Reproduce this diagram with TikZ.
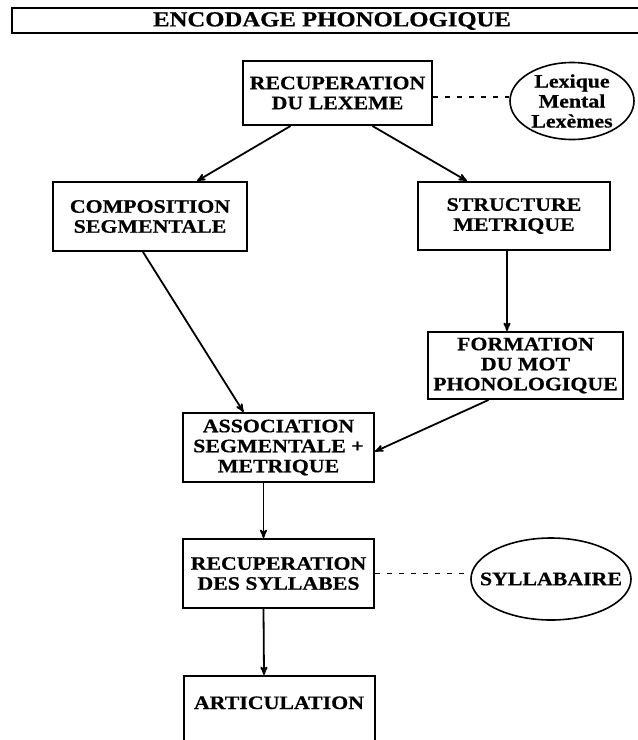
\documentclass[tikz,border=0pt]{standalone}
\usepackage{fontspec}
\setmainfont[FakeStretch=1.15,BoldFeatures={FakeBold=0.6}]{Liberation Serif}
\usepackage{tikz}
\usetikzlibrary{arrows}
\usetikzlibrary{shapes.geometric}
\usetikzlibrary{positioning}

\begin{document}
\begin{tikzpicture}[x=1pt,y=-1pt,>=stealth',
    font=\bfseries\fontsize{19}{20}\selectfont,
    main box/.style={rectangle,draw,line width=2pt,align=center,inner sep=0pt},
    store node/.style={ellipse,draw,line width=1.6pt,inner sep=0pt},
    flow/.style={->,line width=1.8pt},
    link/.style={-,line width=1.8pt,dash pattern=on 5pt off 7pt}]
  \useasboundingbox (0,0) rectangle (638,740);
  \clip (0,0) rectangle (638,740);
  % titre
  \draw[line width=1.4pt] (638,8) -| (12,33) -- (638,33);
  \node[font=\bfseries\fontsize{21.5}{22}\selectfont] (titre) at (332,21) {ENCODAGE PHONOLOGIQUE};
  % boites
  \node[main box,minimum width=189pt,minimum height=64pt] (lexeme) at (337.5,93) {RECUPERATION\\DU LEXEME};
  \node[store node,minimum width=124pt,minimum height=77pt,
        label={[align=center,inner sep=0pt]center:Lexique\\Mental\\Lexèmes}] (lexique) at (572,101) {};
  \node[main box,minimum width=194pt,minimum height=69pt] (compo) at (150,216.5) {COMPOSITION\\SEGMENTALE};
  \node[main box,minimum width=192pt,minimum height=68pt] (metrique) at (514,216) {STRUCTURE\\METRIQUE};
  \node[main box,minimum width=195pt,minimum height=67pt] (motphono) at (525.5,365.5) {FORMATION\\DU MOT\\PHONOLOGIQUE};
  \node[main box,minimum width=191pt,minimum height=69pt] (assoc) at (278.5,447.5) {ASSOCIATION\\SEGMENTALE +\\METRIQUE};
  \node[main box,minimum width=191pt,minimum height=69pt] (syllabes) at (278.5,573.5) {RECUPERATION\\DES SYLLABES};
  \node[store node,minimum width=160pt,minimum height=82pt,
        label={[inner sep=0pt]center:SYLLABAIRE}] (syllabaire) at (551,579) {};
  \node[main box,minimum width=191pt,anchor=north,text height=33pt,text depth=40pt] (artic) at (279,675) {ARTICULATION};
  % fleches
  \path[flow] ([xshift=-47pt]lexeme.south) edge ([xshift=47pt]compo.north);
  \path[flow] ([xshift=35pt]lexeme.south) edge ([xshift=-47pt]metrique.north);
  \path[flow] ([xshift=-7pt]compo.south) edge ([xshift=-35pt]assoc.north);
  \path[flow] ([xshift=-7pt]metrique.south) edge ([xshift=-7pt]metrique.south |- motphono.north);
  \path[flow] ([xshift=-37pt]motphono.south) edge ([yshift=-4pt]assoc.east);
  \path[flow] ([xshift=-15pt]assoc.south) edge ([xshift=-15pt]syllabes.north);
  \path[flow] ([xshift=-15pt]syllabes.south) edge ([xshift=-15pt]artic.north);
  % liens
  \path[link] ([yshift=-4pt]lexeme.east) edge ([yshift=-4pt]lexeme.east -| lexique.west);
  \path[link] (syllabes.east) edge (syllabes.east -| syllabaire.west);
\end{tikzpicture}
\end{document}
